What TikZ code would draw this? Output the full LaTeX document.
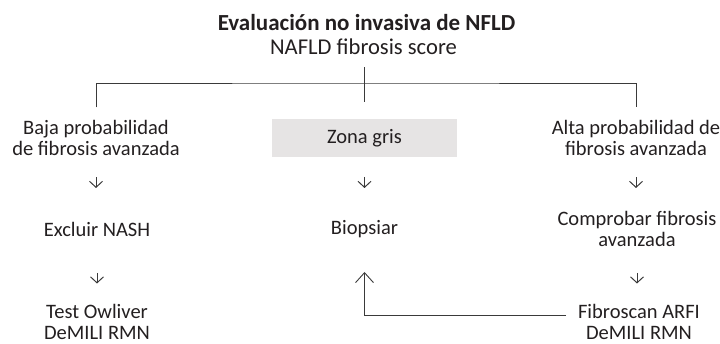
\documentclass[tikz,border=0pt]{standalone}
\usepackage{fontspec}
\setmainfont{Carlito}
\usepackage{xcolor}
\usetikzlibrary{arrows.meta}
\definecolor{ink}{HTML}{231F20}
\definecolor{rule}{HTML}{3A3A3A}
\definecolor{grisbox}{HTML}{E6E4E4}

\begin{document}
\begin{tikzpicture}[x=1pt, y=1pt,
    every node/.style={inner sep=0pt, outer sep=0pt, text=ink, align=center},
    paso/.style={font=\fontsize{20.5}{21}\selectfont, minimum height=40pt},
    linea/.style={draw=rule, line width=0.9pt},
    flecha/.style={linea, line width=1pt, -{Straight Barb[length=6pt, width=13pt, line width=1pt]}}]
    \useasboundingbox (0,0) rectangle (720,-344);
    \node[anchor=base, font=\bfseries\fontsize{23}{24}\selectfont] (titulo) at (366.5,-30.7) {Evaluación no invasiva de NFLD};
    \node[anchor=base, font=\fontsize{22.6}{24}\selectfont] (score) at (363.5,-55) {NAFLD fibrosis score};
    \node[paso] (baja) at (96,-137.5) {Baja probabilidad\\de fibrosis avanzada};
    \node[paso, fill=grisbox, minimum width=185pt, minimum height=38pt] (zona) at (364.5,-138) {Zona gris};
    \node[paso] (alta) at (636,-137.5) {Alta probabilidad de\\fibrosis avanzada};
    \node[paso] (excluir) at (97,-229) {Excluir NASH};
    \node[paso] (biopsiar) at (364.5,-229) {Biopsiar};
    \node[paso] (comprobar) at (637,-229) {Comprobar fibrosis\\avanzada};
    \node[paso] (test) at (97,-321.5) {Test Owliver\\DeMILI RMN};
    \node[paso] (fibroscan) at (639,-321.5) {Fibroscan ARFI\\DeMILI RMN};
    % bracket under the score
    \coordinate (split) at (365,-83);
    \draw[linea, shorten <=10pt, shorten >=10pt] (baja.north) |- (split) -| (alta.north);
    \draw[linea, shorten <=12pt, shorten >=17pt] (score.south -| zona.north) -- (zona.north);
    % small arrows
    \foreach \a/\b in {baja/excluir, zona/biopsiar, alta/comprobar}
        \draw[flecha, shorten <=20pt, shorten >=21pt] (\a.south) -- (\a.south |- \b.north);
    \foreach \a/\b in {excluir/test, comprobar/fibroscan}
        \draw[flecha, shorten <=24pt, shorten >=18pt] (\a.south) -- (\a.south |- \b.north);
    % back to the biopsy
    \draw[linea, -{Straight Barb[length=10pt, width=18pt]}, shorten <=12pt, shorten >=23pt]
        ([yshift=6pt]fibroscan.west) -| (biopsiar.south);
\end{tikzpicture}
\end{document}
